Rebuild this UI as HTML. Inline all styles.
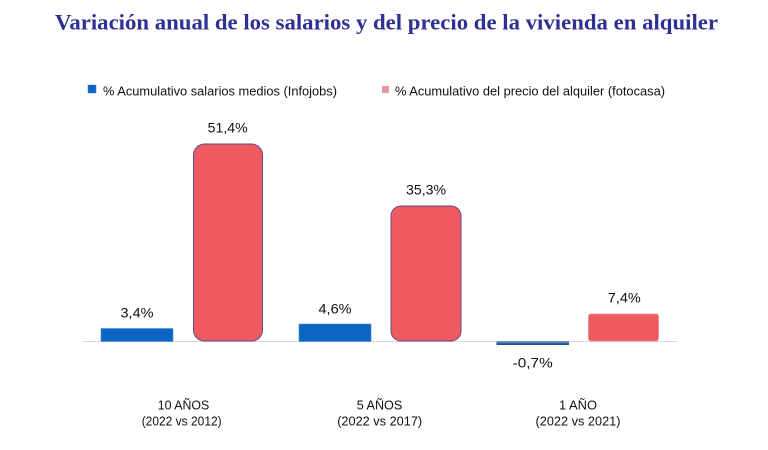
<!DOCTYPE html>
<html>
<head>
<meta charset="utf-8">
<style>
html,body{margin:0;padding:0;background:#fff;}
svg{display:block;}
</style>
</head>
<body>
<svg width="768" height="450" viewBox="0 0 768 450" xmlns="http://www.w3.org/2000/svg">
<rect width="768" height="450" fill="#ffffff"/>
<text x="55" y="29.5" font-family="Liberation Serif, serif" font-weight="bold" font-size="22" fill="#2e3192" textLength="663" lengthAdjust="spacingAndGlyphs">Variación anual de los salarios y del precio de la vivienda en alquiler</text>

<!-- legend -->
<rect x="88" y="85" width="8" height="8" fill="#0a66c2" stroke="#3a7fd0" stroke-width="0.5"/>
<text x="103" y="95.5" font-family="Liberation Sans, sans-serif" font-size="13" fill="#111" textLength="234" lengthAdjust="spacingAndGlyphs">% Acumulativo salarios medios (Infojobs)</text>
<rect x="382" y="86" width="7" height="7" fill="#e59aa3"/>
<text x="395" y="95.5" font-family="Liberation Sans, sans-serif" font-size="13" fill="#111" textLength="270" lengthAdjust="spacingAndGlyphs">% Acumulativo del precio del alquiler (fotocasa)</text>

<!-- axis -->
<line x1="83" y1="341.5" x2="677" y2="341.5" stroke="#d9d9d9" stroke-width="1"/>

<!-- bars -->
<rect x="101" y="328.5" width="72" height="13" fill="#0a66c2" stroke="#4a8ad6" stroke-width="0.6"/>
<rect x="193.5" y="144" width="69" height="197" rx="11" ry="11" fill="#ef5a61" stroke="#5b4c8c" stroke-width="1"/>
<rect x="299" y="324" width="72" height="17.5" fill="#0a66c2" stroke="#4a8ad6" stroke-width="0.6"/>
<rect x="391" y="206" width="70" height="135" rx="10" ry="10" fill="#ef5a61" stroke="#5b4c8c" stroke-width="1"/>
<rect x="496.5" y="341.5" width="72.5" height="3.5" fill="#1f4f90"/>
<line x1="497" y1="342.8" x2="569" y2="342.8" stroke="#5f93d3" stroke-width="1"/>
<rect x="588.5" y="314" width="70" height="27" rx="2.5" ry="2.5" fill="#ef5a61" stroke="#e58a95" stroke-width="0.8"/>

<!-- data labels -->
<g font-family="Liberation Sans, sans-serif" font-size="14" fill="#111" text-anchor="middle">
<text x="227.7" y="132.5" textLength="40" lengthAdjust="spacingAndGlyphs">51,4%</text>
<text x="137" y="317.3" textLength="33" lengthAdjust="spacingAndGlyphs">3,4%</text>
<text x="335" y="313.7" textLength="33" lengthAdjust="spacingAndGlyphs">4,6%</text>
<text x="426" y="194.5" textLength="40" lengthAdjust="spacingAndGlyphs">35,3%</text>
<text x="532.7" y="367.7" textLength="40" lengthAdjust="spacingAndGlyphs">-0,7%</text>
<text x="624.3" y="302.3" textLength="33" lengthAdjust="spacingAndGlyphs">7,4%</text>
</g>

<!-- category labels -->
<g font-family="Liberation Sans, sans-serif" font-size="13" fill="#111" text-anchor="middle">
<text x="183.5" y="409.5" textLength="51.5" lengthAdjust="spacingAndGlyphs">10 AÑOS</text>
<text x="181.7" y="425.5" textLength="80" lengthAdjust="spacingAndGlyphs">(2022 vs 2012)</text>
<text x="379.5" y="409.5" textLength="45.5" lengthAdjust="spacingAndGlyphs">5 AÑOS</text>
<text x="379.7" y="425.5" textLength="85" lengthAdjust="spacingAndGlyphs">(2022 vs 2017)</text>
<text x="578" y="409.5" textLength="38" lengthAdjust="spacingAndGlyphs">1 AÑO</text>
<text x="578" y="425.5" textLength="85" lengthAdjust="spacingAndGlyphs">(2022 vs 2021)</text>
</g>
</svg>
</body>
</html>
